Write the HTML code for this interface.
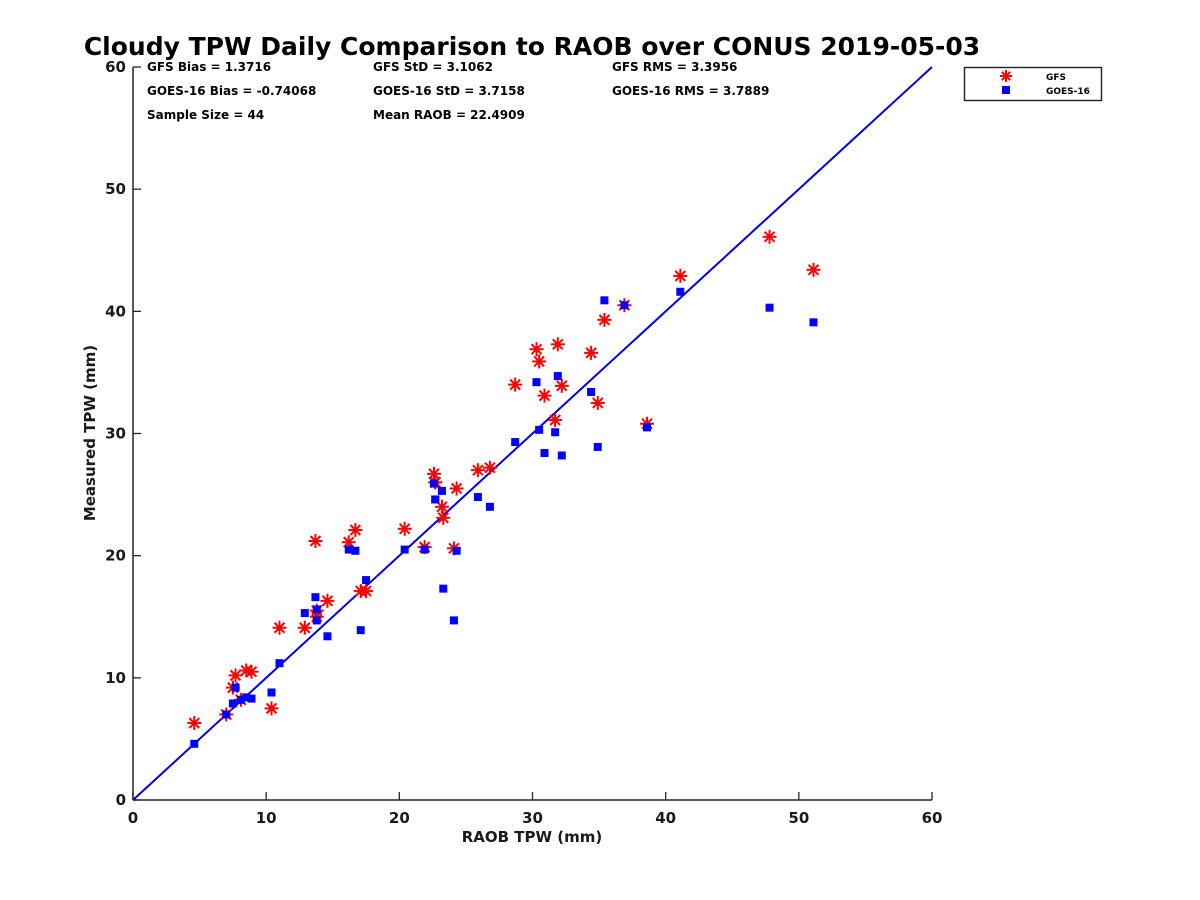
<!DOCTYPE html>
<html><head><meta charset="utf-8"><style>
body{margin:0;background:#fff;}
svg{display:block;font-family:"DejaVu Sans","Liberation Sans",sans-serif;font-weight:bold;}
</style></head><body>
<svg id="chart" width="1200" height="900" viewBox="0 0 1200 900">
<rect x="0" y="0" width="1200" height="900" fill="#fff"/>
<text x="532" y="55" font-size="25" text-anchor="middle" fill="#000">Cloudy TPW Daily Comparison to RAOB over CONUS 2019-05-03</text>
<g id="stats" font-size="12" fill="#000">
<text x="147" y="71">GFS Bias = 1.3716</text>
<text x="373" y="71">GFS StD = 3.1062</text>
<text x="612" y="71">GFS RMS = 3.3956</text>
<text x="147" y="95">GOES-16 Bias = -0.74068</text>
<text x="373" y="95">GOES-16 StD = 3.7158</text>
<text x="612" y="95">GOES-16 RMS = 3.7889</text>
<text x="147" y="119">Sample Size = 44</text>
<text x="373" y="119">Mean RAOB = 22.4909</text>
</g>
<g id="axes"></g>
<g id="marks"></g>
<g>
<rect x="964.5" y="67.5" width="137" height="33" fill="#fff" stroke="#222" stroke-width="1.4"/>
<g stroke="#f00" stroke-width="2">
<line x1="1006" y1="70" x2="1006" y2="82"/><line x1="1000" y1="76" x2="1012" y2="76"/><line x1="1001.8" y1="71.8" x2="1010.2" y2="80.2"/><line x1="1001.8" y1="80.2" x2="1010.2" y2="71.8"/></g>
<rect x="1002" y="86" width="8" height="8" fill="#00f"/>
<text x="1046" y="80" font-size="9">GFS</text>
<text x="1046" y="94" font-size="9">GOES-16</text>
</g>
</svg>
<script>
const raob = [4.6,7.0,7.5,7.7,8.1,8.5,8.9,10.4,11.0,12.9,13.7,13.8,13.8,14.6,16.2,16.7,17.1,17.5,20.4,21.9,22.6,22.7,22.7,23.2,23.3,24.1,24.3,25.9,26.8,28.7,30.3,30.5,30.9,31.7,31.9,32.2,34.4,34.9,35.4,36.9,38.6,41.1,47.8,51.1];
const gfs = [6.3,7.0,9.2,10.2,8.2,10.6,10.5,7.5,14.1,14.1,21.2,15.5,15.0,16.3,21.1,22.1,17.1,17.1,22.2,20.7,26.7,26.0,26.0,24.0,23.1,20.6,25.5,27.0,27.2,34.0,36.9,35.9,33.1,31.1,37.3,33.9,36.6,32.5,39.3,40.5,30.8,42.9,46.1,43.4];
const goes = [4.6,7.0,7.9,9.2,8.2,8.4,8.3,8.8,11.2,15.3,16.6,15.6,14.7,13.4,20.5,20.4,13.9,18.0,20.5,20.5,25.9,24.6,24.6,25.3,17.3,14.7,20.4,24.8,24.0,29.3,34.2,30.3,28.4,30.1,34.7,28.2,33.4,28.9,40.9,40.5,30.5,41.6,40.3,39.1];
const xTicks = [0,10,20,30,40,50,60];
const yTicks = [0,10,20,30,40,50,60];
const X0=133,X1=932,Y0=800,Y1=67;
const sx=v=>X0+(v-0)/60*(X1-X0);
const sy=v=>Y0-(v-0)/60*(Y0-Y1);
const NS='http://www.w3.org/2000/svg';
function mk(tag,attrs,parent){const e=document.createElementNS(NS,tag);for(const k in attrs)e.setAttribute(k,attrs[k]);parent.appendChild(e);return e;}
const ax=document.getElementById('axes');
let l=mk('line',{x1:X0,y1:Y0,x2:X1,y2:Y0,stroke:'#262626','stroke-width':1.5},ax);


l=mk('line',{x1:X0,y1:Y0,x2:X0,y2:Y1,stroke:'#262626','stroke-width':1.5},ax);


xTicks.forEach(t=>{
 const x=sx(t);
 const tk=mk('line',{x1:x,y1:Y0,x2:x,y2:Y0-8,stroke:'#262626','stroke-width':1.3},ax);
 
 
 const tx=mk('text',{x:x,y:Y0+23,'font-size':15,'text-anchor':'middle',fill:'#1a1a1a'},ax);
 tx.textContent=t;
 
 
});
yTicks.forEach(t=>{
 const y=sy(t);
 const tk=mk('line',{x1:X0,y1:y,x2:X0+8,y2:y,stroke:'#262626','stroke-width':1.3},ax);
 
 
 const tx=mk('text',{x:X0-7,y:y+5,'font-size':15,'text-anchor':'end',fill:'#1a1a1a'},ax);
 tx.textContent=t;
 
 
});
let xt=mk('text',{x:532,y:842,'font-size':15,'text-anchor':'middle',fill:'#1a1a1a'},ax);
xt.textContent='RAOB TPW (mm)';


let yt=mk('text',{x:95,y:433,'font-size':15,'text-anchor':'middle',fill:'#1a1a1a',transform:'rotate(-90 95 433)'},ax);
yt.textContent='Measured TPW (mm)';


const mg=document.getElementById('marks');
const diag=mk('line',{x1:sx(0),y1:sy(0),x2:sx(60),y2:sy(60),stroke:'#0000e6','stroke-width':2},mg);


raob.forEach((r,i)=>{
 const x=sx(r),y=sy(gfs[i]);
 const g=mk('g',{stroke:'#f00','stroke-width':2},mg);
 
 
 const s=7,d=5;
 mk('line',{x1:x,y1:y-s,x2:x,y2:y+s},g);
 mk('line',{x1:x-s,y1:y,x2:x+s,y2:y},g);
 mk('line',{x1:x-d,y1:y-d,x2:x+d,y2:y+d},g);
 mk('line',{x1:x-d,y1:y+d,x2:x+d,y2:y-d},g);
});
raob.forEach((r,i)=>{
 const x=sx(r),y=sy(goes[i]);
 const q=mk('rect',{x:x-4,y:y-4,width:8,height:8,fill:'#00f'},mg);
 
 
});
</script>
</body></html>
